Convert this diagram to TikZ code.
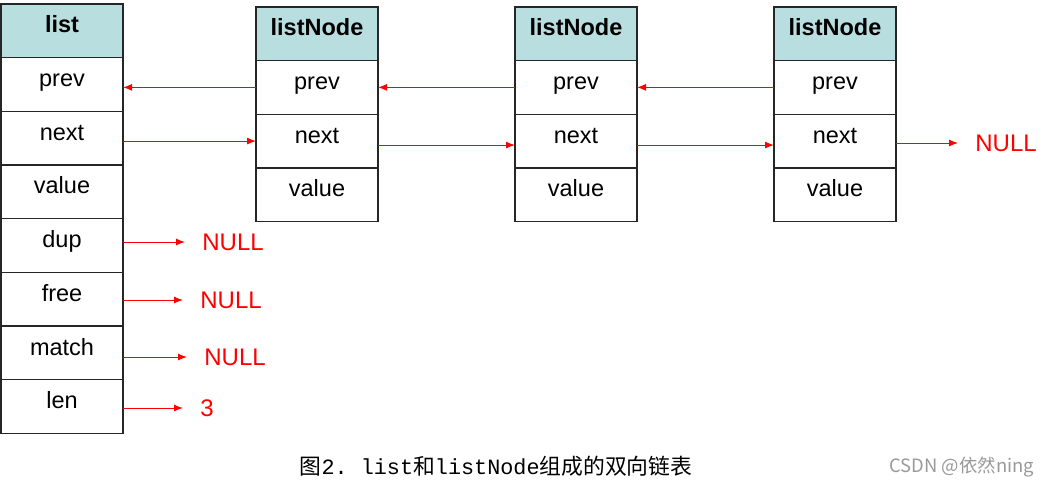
\documentclass[tikz,border=0pt]{standalone}
\usepackage{fontspec}
\setmainfont{Liberation Sans}
\setmonofont{Liberation Mono}
\newfontfamily\cjk{Noto Sans CJK SC}
\usetikzlibrary{positioning, arrows.meta}

\definecolor{headfill}{RGB}{185,222,224}
\definecolor{ptrred}{RGB}{255,0,0}

\tikzset{
  field/.style={draw=black!85, line width=0.7pt, minimum width=61pt, inner sep=0pt, outer sep=0pt,
    text height=14.5pt, text depth=12.35pt, font=\fontsize{11.75}{14}\selectfont},
  head/.style={field, fill=headfill, text height=14pt, text depth=12.75pt,
    font=\fontsize{11.75}{14}\selectfont\bfseries},
  ptr/.style={draw=ptrred, line width=0.5pt, -{Latex[length=4.5pt,width=3.5pt]}},
  nullval/.style={text=ptrred, inner sep=0pt, font=\fontsize{12}{14}\selectfont}
}

\begin{document}
\begin{tikzpicture}[x=0.5pt, y=-0.5pt]
    \useasboundingbox (0,0) rectangle (1051,495);

    % the list header struct
    \node[head, anchor=north west] (lhead) at (1,4) {list};
    \node[field, below=0pt of lhead] (lprev) {prev};
    \node[field, below=0pt of lprev] (lnext) {next};
    \node[field, below=0pt of lnext] (lvalue) {value};
    \node[field, below=0pt of lvalue] (ldup) {dup};
    \node[field, below=0pt of ldup] (lfree) {free};
    \node[field, below=0pt of lfree] (lmatch) {match};
    \node[field, below=0pt of lmatch] (llen) {len};

    % three list nodes
    \foreach \i/\x in {1/256, 2/515, 3/774} {
        \node[head, anchor=north west] (n\i-head) at (\x,7) {listNode};
        \node[field, below=0pt of n\i-head] (n\i-prev) {prev};
        \node[field, below=0pt of n\i-prev] (n\i-next) {next};
        \node[field, below=0pt of n\i-next] (n\i-value) {value};
    }

    % prev pointers
    \draw[ptr] (n1-prev.west) -- (lprev.east |- n1-prev.west);
    \draw[ptr] (n2-prev.west) -- (n1-prev.east);
    \draw[ptr] (n3-prev.west) -- (n2-prev.east);

    % next pointers
    \draw[ptr] (lnext.east |- n1-next.west) -- (n1-next.west);
    \foreach \i/\j in {1/2, 2/3}
        \draw[ptr] ([yshift=-2pt]n\i-next.east) -- ([yshift=-2pt]n\j-next.west);
    \node[nullval, anchor=west] (n3null) at (975,143) {NULL};
    \draw[ptr, shorten >=8.5pt] (n3-next.east |- n3null.west) -- (n3null.west);

    % values of the list fields
    \foreach \f/\x/\y/\t in {dup/202/242/NULL, free/200/300/NULL, match/204/357/NULL, len/200/408/3} {
        \node[nullval, anchor=west] (\f-out) at (\x,\y) {\t};
        \draw[ptr, shorten >=8.5pt] (l\f.east |- \f-out.west) -- (\f-out.west);
    }

    \node[font=\fontsize{10.9}{13}\selectfont] (caption) at (496,466)
        {{\cjk 图}\texttt{2. list}{\cjk 和}\texttt{listNode}{\cjk 组成的双向链表}};
    \node[text=black!40, font=\cjk\fontsize{9.2}{11}\selectfont, anchor=east] (mark) at (1041,467)
        {CSDN @依然ning};
\end{tikzpicture}
\end{document}
